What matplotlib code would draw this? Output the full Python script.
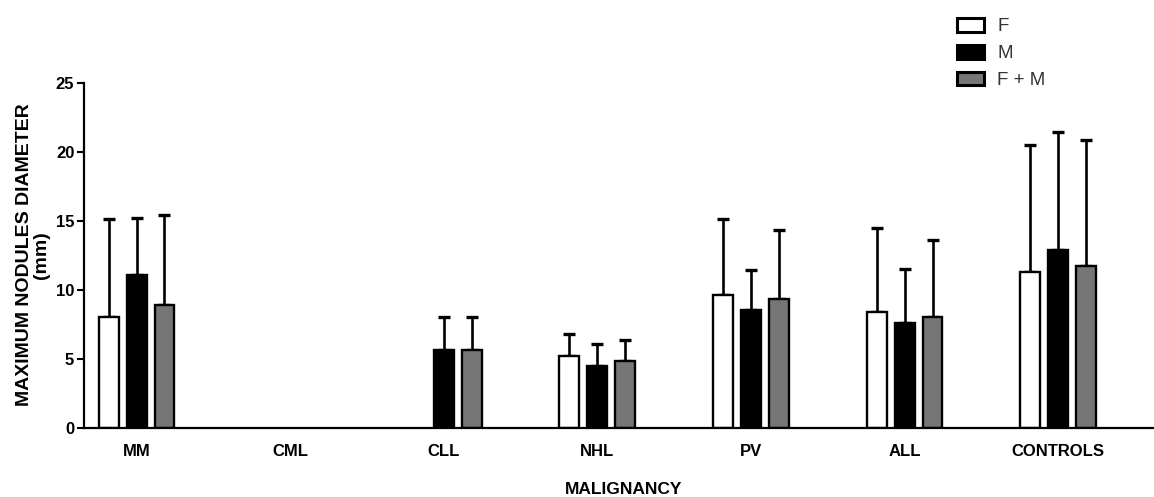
import numpy as np
import matplotlib
matplotlib.use("Agg")
import matplotlib.pyplot as plt
from matplotlib.patches import Patch

plt.rcParams['font.family'] = ['Liberation Sans', 'DejaVu Sans']

categories = ["MM", "CML", "CLL", "NHL", "PV", "ALL", "CONTROLS"]
series_names = ["F", "M", "F + M"]
F_mean = [8.0, np.nan, np.nan, 5.2, 9.6, 8.4, 11.25]
M_mean = [11.1, np.nan, 5.6, 4.5, 8.5, 7.6, 12.9]
FM_mean = [8.9, np.nan, 5.6, 4.8, 9.3, 8.05, 11.7]
F_sd = [7.1, np.nan, np.nan, 1.6, 5.55, 6.1, 9.25]
M_sd = [4.1, np.nan, 2.4, 1.6, 2.9, 3.9, 8.55]
FM_sd = [6.5, np.nan, 2.4, 1.55, 5.0, 5.55, 9.15]
yticks = [0, 5, 10, 15, 20, 25]

W, H = 1154, 497
fig = plt.figure(figsize=(W / 100, H / 100), dpi=100)
ax = fig.add_axes([84 / W, 1 - 427.7 / H, (W - 84) / W, (427.7 - 82.7) / H])

x = np.arange(len(categories))
width = 0.13
step = 0.182
colors = ["white", "black", "#767676"]
means = [F_mean, M_mean, FM_mean]
sds = [F_sd, M_sd, FM_sd]
for k in range(3):
    xs = x + (k - 1) * step
    m = np.array(means[k], dtype=float)
    s = np.array(sds[k], dtype=float)
    ax.errorbar(xs, m, yerr=[np.zeros_like(s), s], fmt='none', ecolor='black',
                elinewidth=1.9, capsize=4.5, capthick=2.4, zorder=1)
    ax.bar(xs, m, width=width, color=colors[k], edgecolor='black', linewidth=1.7, zorder=2)

ax.set_xlim(-0.342, 6.624)
ax.set_ylim(0, 25)
ax.set_yticks(yticks)
ax.set_yticklabels([str(t) for t in yticks], fontsize=12, fontweight='bold')
ax.set_xticks(x)
ax.set_xticklabels(categories, fontsize=12, fontweight='bold')
ax.tick_params(axis='x', length=0, pad=12)
ax.tick_params(axis='y', length=5, width=1.5, pad=2)
for s in ['top', 'right']:
    ax.spines[s].set_visible(False)
for s in ['left', 'bottom']:
    ax.spines[s].set_linewidth(1.6)

fig.text(624 / W, 1 - 489 / H, "MALIGNANCY", ha='center', va='center', fontsize=12.5, fontweight='bold')
fig.text(33 / W, 1 - 255 / H, "MAXIMUM NODULES DIAMETER\n(mm)", ha='center', va='center',
         rotation=90, fontsize=14, fontweight='bold', multialignment='center', linespacing=1.0)

handles = [Patch(facecolor=c, edgecolor='black', linewidth=2.2) for c in colors]
leg = fig.legend(handles, series_names, loc='upper left', bbox_to_anchor=(957 / W, 1 - 18 / H),
                 frameon=False, fontsize=13.5, borderpad=0, handlelength=1.45, handleheight=0.75,
                 handletextpad=0.7, labelspacing=0.5, borderaxespad=0)
for t in leg.get_texts():
    t.set_color('#333333')

fig.savefig("out.png", dpi=100, facecolor='white')
